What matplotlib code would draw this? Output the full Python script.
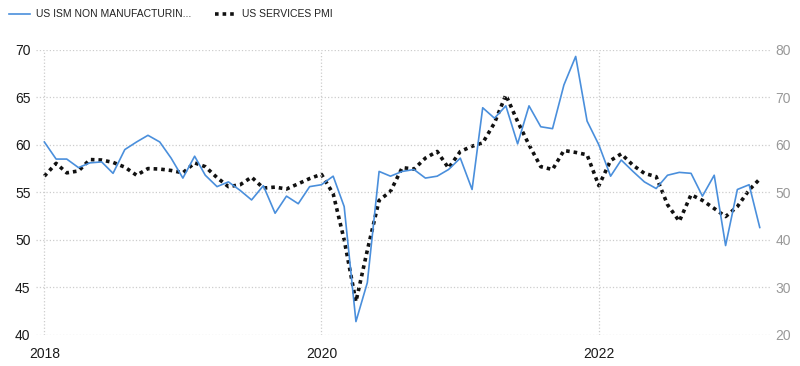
import pandas as pd
import matplotlib
matplotlib.use('Agg')
import matplotlib.pyplot as plt


months = pd.date_range('2018-01-01', periods=63, freq='MS')

ism_services = [
    60.3, 58.5, 58.5, 57.6, 58.1, 58.2, 57.0, 59.5, 60.3, 61.0, 60.3, 58.6,
    56.5, 58.8, 56.8, 55.6, 56.1, 55.2, 54.2, 55.7, 52.8, 54.6, 53.8, 55.6,
    55.8, 56.7, 53.5, 41.4, 45.5, 57.2, 56.7, 57.2, 57.4, 56.5, 56.7, 57.4,
    58.6, 55.3, 63.9, 62.8, 64.1, 60.1, 64.1, 61.9, 61.7, 66.3, 69.3, 62.5,
    60.0, 56.7, 58.4, 57.2, 56.1, 55.4, 56.8, 57.1, 57.0, 54.6, 56.8, 49.4,
    55.3, 55.8, 51.3,
]

services_pmi = [
    53.4, 56.1, 54.1, 54.5, 56.9, 56.8, 56.3, 55.3, 53.6, 55.0, 54.9, 54.6,
    54.1, 56.2, 55.4, 53.1, 51.2, 51.6, 53.2, 50.9, 51.1, 50.7, 51.8, 52.9,
    53.8, 49.7, 40.0, 27.0, 37.8, 48.3, 50.2, 55.2, 54.9, 57.2, 58.6, 55.1,
    58.6, 59.7, 60.4, 64.6, 70.5, 64.9, 60.0, 55.4, 54.8, 58.8, 58.4, 57.9,
    51.4, 56.7, 58.1, 55.7, 54.0, 53.3, 47.4, 43.9, 49.5, 48.3, 46.6, 44.9,
    47.0, 50.5, 52.8,
]

year_ticks = ['2018-01-01', '2020-01-01', '2022-01-01']
year_labels = ['2018', '2020', '2022']

plt.rcParams['font.family'] = ['Liberation Sans', 'DejaVu Sans']

fig = plt.figure(figsize=(8, 3.66), dpi=100)
ax = fig.add_axes([0.045, 0.085, 0.9175, 0.779])
ax2 = ax.twinx()

l1, = ax.plot(months, ism_services, color='#4a8fdc', lw=1.2,
              label='US ISM NON MANUFACTURIN...')
l2, = ax2.plot(months, services_pmi, color='#111111', lw=2.6,
               linestyle=(0, (1, 1.1)), label='US SERVICES PMI')

ax.set_ylim(40, 70)
ax2.set_ylim(20, 80)
ax.set_yticks([40, 45, 50, 55, 60, 65, 70])
ax2.set_yticks([20, 30, 40, 50, 60, 70, 80])
ax.set_xlim(pd.Timestamp('2017-12-10'), pd.Timestamp('2023-03-28'))
ax.set_xticks(pd.to_datetime(year_ticks))
ax.set_xticklabels(year_labels)

ax.grid(True, color='#cccccc', linestyle=':', lw=0.9)
for a in (ax, ax2):
    for s in a.spines.values():
        s.set_visible(False)
ax.tick_params(axis='x', length=0, labelsize=10, colors='#1a1a1a', pad=9)
ax.tick_params(axis='y', length=0, labelsize=10, colors='#1a1a1a', pad=4)
ax2.tick_params(axis='y', length=0, labelsize=10, colors='#999999', pad=4)
ax.set_zorder(ax2.get_zorder() + 1)
ax.patch.set_visible(False)

fig.legend(handles=[l1, l2], loc='upper left', bbox_to_anchor=(0.0, 1.0),
           ncol=2, frameon=False, fontsize=7.5, handlelength=2.0,
           handletextpad=0.6, columnspacing=2.2, labelcolor='#222222')

fig.savefig('out.png', dpi=100)
